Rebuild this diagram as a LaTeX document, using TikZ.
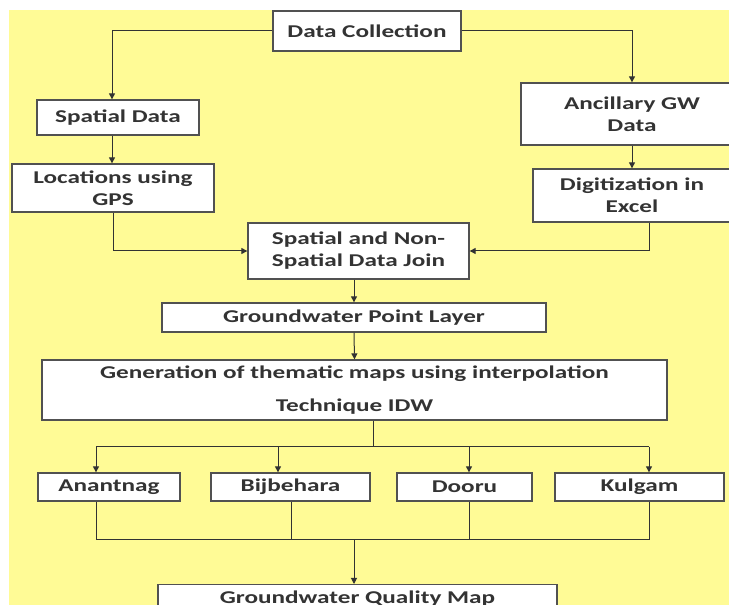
\documentclass[tikz,border=0pt]{standalone}
\usepackage{fontspec}
\setmainfont{Carlito}[FakeStretch=1.4]
\usetikzlibrary{positioning,arrows.meta}
\definecolor{bgyellow}{RGB}{255,251,150}
\definecolor{linegray}{RGB}{50,50,50}
\newcommand{\pxu}{0.75pt}

\begin{document}
\begin{tikzpicture}[
    x=0.75pt, y=-0.75pt,
    box/.style={draw=linegray!85, line width=1.3*\pxu, fill=white, align=center, inner sep=0pt,
                font=\bfseries\fontsize{13.5}{16.5}\selectfont, text=black!80},
    arr/.style={-{Triangle[length=4.5pt, width=4.5pt]}, line width=\pxu, draw=linegray},
    link/.style={line width=\pxu, draw=linegray}
]
\useasboundingbox (0,0) rectangle (729,605);
\clip (0,0) rectangle (729,605);
\fill[bgyellow] (9,10) rectangle (729,605);

% ===== Top: collection =====
\node[box, minimum width=188*\pxu, minimum height=40*\pxu] (dc) at (367,31) {Data Collection};

% Left branch
\node[box, minimum width=162*\pxu, minimum height=35*\pxu] (sd) at (118,117.5) {Spatial Data};
\node[box, minimum width=202*\pxu, minimum height=48*\pxu] (loc) at (113,188) {Locations using\\GPS};

% Right branch
\node[box, minimum width=222*\pxu, minimum height=62*\pxu] (anc) at (632,114) {Ancillary GW\\Data};
\node[box, minimum width=198*\pxu, minimum height=53*\pxu] (dig) at (632,195.5) {Digitization in\\Excel};

% ===== Middle: join and layers =====
\node[box, minimum width=221*\pxu, minimum height=56*\pxu] (join) at (358.5,251) {Spatial and Non-\\Spatial Data Join};
\node[box, minimum width=384*\pxu, minimum height=29*\pxu] (gpl) at (354,317.5) {Groundwater Point Layer};
\node[box, minimum width=625*\pxu, minimum height=60*\pxu] (gen) at (354.5,390) {Generation of thematic maps using interpolation\\[8pt]Technique IDW};

% ===== Districts =====
\node[box, minimum width=142*\pxu, minimum height=28*\pxu] (ana) at (109,487) {Anantnag};
\node[box, minimum width=159*\pxu, minimum height=28*\pxu] (bij) at (290.5,487) {Bijbehara};
\node[box, minimum width=135*\pxu, minimum height=28*\pxu] (doo) at (464.5,487) {Dooru};
\node[box, minimum width=169*\pxu, minimum height=28*\pxu] (kul) at (639.5,487) {Kulgam};

% Output (cut at the bottom edge)
\node[box, minimum width=399*\pxu, minimum height=28*\pxu, anchor=north] (gqm) at (357.5,584) {Groundwater Quality Map};

% ===== Connectors =====
\coordinate (sdx) at (112,0);
\draw[arr] (dc.west) -| (sdx |- sd.north);
\draw[arr] (dc.east) -| (anc.north);
\draw[arr] (sdx |- sd.south) -- (sdx |- loc.north);
\draw[arr] (anc.south) -- (dig.north);
\draw[arr] (loc.south) |- (join.west);
\draw[arr] ([xshift=17*\pxu]dig.south) |- (join.east);
\draw[arr] (gpl.north |- join.south) -- (gpl.north);
\draw[arr] (gpl.south) -- (gen.north);

% Split to districts
\coordinate (br) at (373,447);
\coordinate (t1) at (96,447);
\coordinate (t2) at (278,447);
\coordinate (t3) at (469,447);
\coordinate (t4) at (649,447);
\draw[link] (br |- gen.south) -- (br);
\draw[link] (t1) -- (t4);
\draw[arr] (t1) -- (t1 |- ana.north);
\draw[arr] (t2) -- (t2 |- bij.north);
\draw[arr] (t3) -- (t3 |- doo.north);
\draw[arr] (t4) -- (t4 |- kul.north);

% Merge to output
\coordinate (b1) at (96,540);
\coordinate (b2) at (291,540);
\coordinate (b3) at (469,540);
\coordinate (b4) at (649,540);
\coordinate (bm) at (354,540);
\draw[link] (b1 |- ana.south) -- (b1);
\draw[link] (b2 |- bij.south) -- (b2);
\draw[link] (b3 |- doo.south) -- (b3);
\draw[link] (b4 |- kul.south) -- (b4);
\draw[link] (b1) -- (b4);
\draw[arr] (bm) -- (bm |- gqm.north);

\end{tikzpicture}
\end{document}
